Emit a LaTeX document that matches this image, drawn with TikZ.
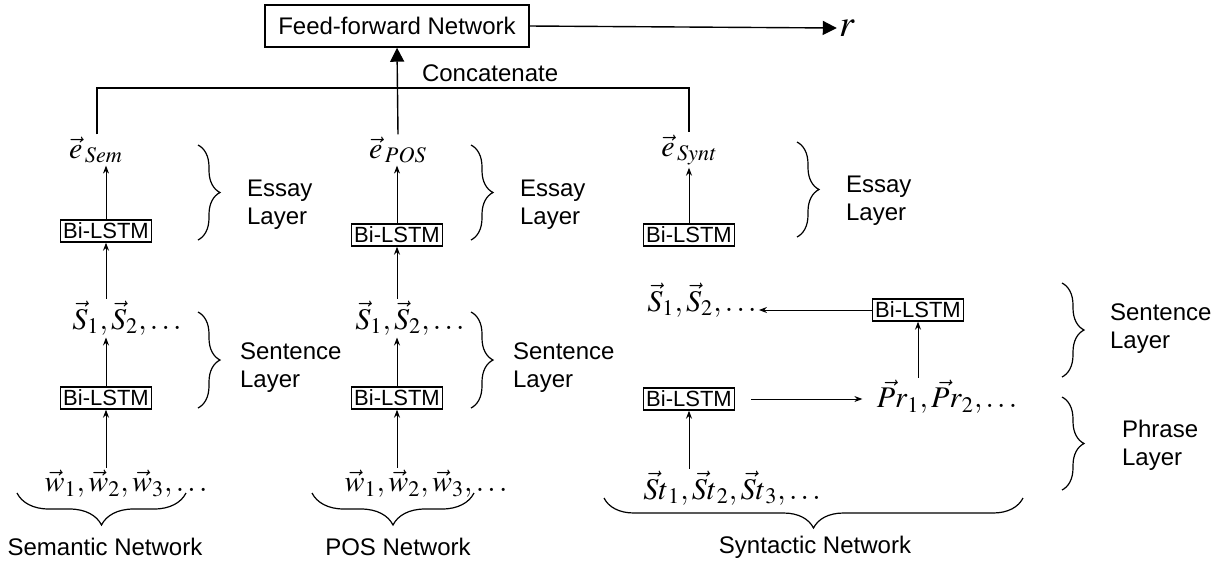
\documentclass[tikz,border=0pt]{standalone}
\usepackage{mathptmx}
\usepackage{fontspec}
\setmainfont{Liberation Sans}
\usetikzlibrary{arrows.meta,decorations.pathreplacing}

\tikzset{
	lstm/.style={draw, line width=0.6pt, font=\fontsize{11}{13}\selectfont, inner sep=1.5pt},
	seq/.style={font=\fontsize{15}{18}\selectfont, inner sep=1pt},
	lbl/.style={anchor=west, align=left, font=\fontsize{12}{14}\selectfont},
	arr/.style={-{Stealth[length=4pt,width=3pt]}, line width=0.5pt},
	bigarr/.style={-{Triangle[length=7pt,width=7pt]}, line width=0.7pt},
	brc/.style={decorate, decoration={brace, amplitude=#1}, line width=0.6pt},
	brc/.default=11pt
}

\begin{document}
\begin{tikzpicture}[x=0.5pt,y=-0.5pt]
		\useasboundingbox (0,0) rectangle (1221,564);

		% top
		\node[draw, line width=0.7pt, font=\fontsize{12}{14}\selectfont, minimum width=132pt, minimum height=21pt] (ffn) at (397,26) {Feed-forward Network};
		\node[font=\fontsize{19}{22}\selectfont, inner sep=1pt] (r) at (847,28) {$r$};
		\draw[bigarr] (ffn.east) -- (r.west);
		\node[lbl] (cat) at (415,73) {Concatenate};

		% semantic network
		\node[seq] (eSem) at (96,150) {$\vec{e}_{\,\mathit{Sem}}$};
		\node[lstm] (bE1) at (106,231) {Bi-LSTM};
		\node[seq] (sR1) at (127,318) {$\vec{S}_{1},\vec{S}_{2},\ldots$};
		\node[lstm] (bS1) at (106,398) {Bi-LSTM};
		\node[seq] (wR1) at (126,484) {$\vec{w}_{1},\vec{w}_{2},\vec{w}_{3},\ldots$};
		\draw[arr] (bE1.north) -- (bE1.north |- eSem.south);
		\draw[arr] (sR1.north -| bE1) -- (bE1.south);
		\draw[arr] (bS1.north) -- (bS1.north |- sR1.south);
		\draw[arr] (wR1.north -| bS1) -- (bS1.south);
		\draw[brc] (198,145) -- (198,240);
		\node[lbl] (essL1) at (240,205) {Essay\\Layer};
		\draw[brc] (198,312) -- (198,408);
		\node[lbl] (senL1) at (233,368) {Sentence\\Layer};
		\draw[brc=16pt] (186,493) -- (17,493);
		\node[lbl, anchor=center] (net1) at (105,547) {Semantic Network};

		% POS network
		\node[seq] (ePOS) at (398,150) {$\vec{e}_{\,\mathit{POS}}$};
		\node[lstm] (bE2) at (397,235) {Bi-LSTM};
		\node[seq] (sR2) at (410,318) {$\vec{S}_{1},\vec{S}_{2},\ldots$};
		\node[lstm] (bS2) at (397,398) {Bi-LSTM};
		\node[seq] (wR2) at (426,484) {$\vec{w}_{1},\vec{w}_{2},\vec{w}_{3},\ldots$};
		\draw[arr] (bE2.north) -- (bE2.north |- ePOS.south);
		\draw[arr] (sR2.north -| bE2) -- (bE2.south);
		\draw[arr] (bS2.north) -- (bS2.north |- sR2.south);
		\draw[arr] (wR2.north -| bS2) -- (bS2.south);
		\draw[brc] (471,145) -- (471,240);
		\node[lbl] (essL2) at (513,205) {Essay\\Layer};
		\draw[brc] (471,312) -- (471,408);
		\node[lbl] (senL2) at (506,368) {Sentence\\Layer};
		\draw[brc=16pt] (474,493) -- (312,493);
		\node[lbl, anchor=center] (net2) at (398,547) {POS Network};

		% syntactic network
		\node[seq] (eSynt) at (689,150) {$\vec{e}_{\,\mathit{Synt}}$};
		\node[lstm] (bE3) at (689,235) {Bi-LSTM};
		\node[seq] (sR3) at (702,300) {$\vec{S}_{1},\vec{S}_{2},\ldots$};
		\node[lstm] (bU3) at (918,310) {Bi-LSTM};
		\node[seq] (pR3) at (947,397) {$\vec{Pr}_{1},\vec{Pr}_{2},\ldots$};
		\node[lstm] (bL3) at (689,399) {Bi-LSTM};
		\node[seq] (stR3) at (732,488) {$\vec{St}_{1},\vec{St}_{2},\vec{St}_{3},\ldots$};
		\draw[arr] (bE3.north) -- (bE3.north |- eSynt.south);
		\draw[arr] (bU3.west) -- (bU3.west -| sR3.east);
		\draw[arr] (pR3.north -| bU3) -- (bU3.south);
		\draw[arr, shorten >=6pt] ([xshift=8pt]bL3.east) -- (bL3.east -| pR3.west);
		\draw[arr] (stR3.north -| bL3) -- (bL3.south);
		\draw[brc] (797,142) -- (797,237);
		\node[lbl] (essL3) at (839,201) {Essay\\Layer};
		\draw[brc] (1062,283) -- (1062,377);
		\node[lbl] (senL3) at (1103,329) {Sentence\\Layer};
		\draw[brc] (1062,397) -- (1062,490);
		\node[lbl] (phrL3) at (1115,445) {Phrase\\Layer};
		\draw[brc=15pt] (1023,498) -- (604,498);
		\node[lbl, anchor=center] (net3) at (815,547) {Syntactic Network};

		% concatenation
		\draw[line width=0.7pt] (eSem.north -| 97,0) -- (97,88) -| (eSynt.north);
		\draw[bigarr] (ePOS.north) -- (ffn.south);
	\end{tikzpicture}
\end{document}
